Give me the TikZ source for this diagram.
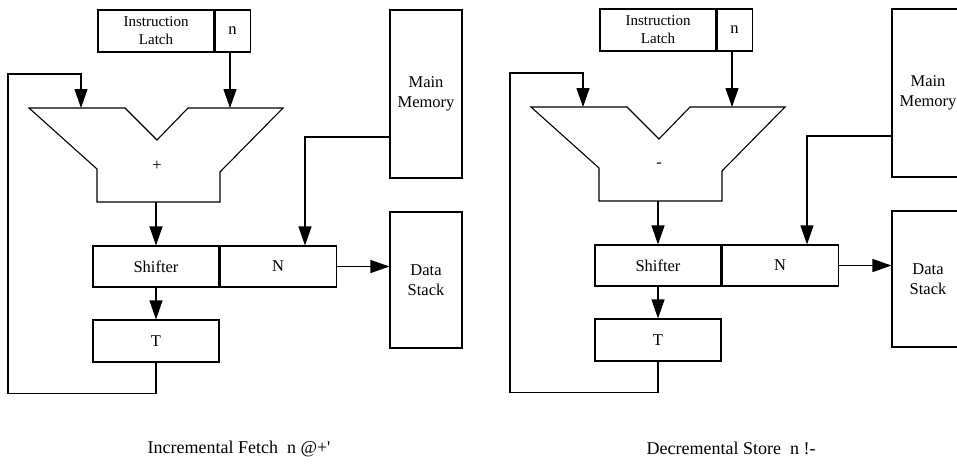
\documentclass[tikz,border=0pt]{standalone}
\usepackage{fontspec}
\setmainfont{Liberation Serif}
\usetikzlibrary{arrows.meta}

\tikzset{
  box/.style={draw, line width=1.1pt, rectangle, inner sep=0pt, align=center,
              font=\fontsize{16.5}{20}\selectfont},
  smallbox/.style={box, font=\fontsize{15}{18}\selectfont},
  wire/.style={draw, line width=1.1pt},
  feed/.style={wire, -{Triangle[length=19pt, width=13pt]}},
  caption/.style={font=\fontsize{18}{22}\selectfont, inner sep=0pt}
}

% One datapath: #1 name prefix, #2 adder operation
\newcommand{\datapath}[2]{%
  \node[smallbox, minimum width=116pt, minimum height=42pt] (#1latch) at (156,31) {Instruction\\Latch};
  \node[box, minimum width=35pt, minimum height=42pt, anchor=west] (#1n) at (#1latch.east) {n};
  \node[box, minimum width=72pt, minimum height=168pt] (#1mem) at (426,94) {Main\\Memory};
  \node[box, minimum width=72pt, minimum height=136pt] (#1ds) at (426,280) {Data\\Stack};
  \node[box, minimum width=126pt, minimum height=41pt] (#1shift) at (156,266.5) {Shifter};
  \node[box, minimum width=116pt, minimum height=41pt, anchor=west] (#1N) at (#1shift.east) {N};
  \node[box, minimum width=126pt, minimum height=42pt] (#1T) at (156,341) {T};
  % adder outline
  \draw[line width=1.1pt] (29,108) -- (125,108) -- (157,140) -- (188,108) -- (283,108)
        -- (220,172) -- (220,202) -- (97,202) -- (97,169) -- cycle;
  \node[font=\fontsize{16.5}{20}\selectfont] (#1op) at (157,166) {#2};
  \coordinate (#1inL) at (81,108);
  \coordinate (#1inR) at (230,108);
  \coordinate (#1out) at (156,202);
  % connectors
  \path[feed] (#1inR |- #1n.south) -- (#1inR);
  \path[feed] (#1out) -- (#1out |- #1shift.north);
  \path[feed] (#1shift.south) -- (#1T.north);
  \path[feed] (#1mem.west |- 0,137) -| (305,0 |- #1N.north);
  \path[feed] (#1N.east) -- (#1ds.west |- #1N.east);
  \path[feed] (#1T.south) -- ++(0,31) -| (8,74) -| (#1inL);
}

\begin{document}
\begin{tikzpicture}[x=1pt, y=-1pt]
  \useasboundingbox (0,0) rectangle (957,466);
  \clip (0,0) rectangle (957,466);
  \fill[white] (0,0) rectangle (957,466);

  \begin{scope}
    \datapath{a}{+}
  \end{scope}
  \node[caption] (capA) at (239,449) {Incremental Fetch\ \ n @+{\addfontfeature{Ligatures=TeXOff}'}};

  \begin{scope}[shift={(502,-1)}]
    \datapath{b}{-}
  \end{scope}
  \node[caption] (capB) at (731,448) {Decremental Store\ \ n !-};
\end{tikzpicture}
\end{document}
